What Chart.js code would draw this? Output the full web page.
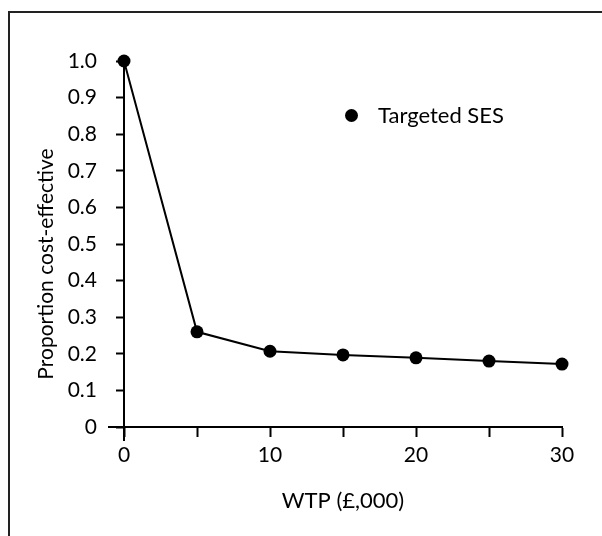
<!DOCTYPE html>
<html>
<head>
<meta charset="utf-8">
<script src="https://cdn.jsdelivr.net/npm/chart.js@4"></script>
<style>
    html, body { margin: 0; padding: 0; background: #fff; overflow: hidden; }
    #wrap { position: relative; width: 602px; height: 536px; }
    #frame { position: absolute; left: 8px; top: 11px; width: 1000px; height: 1000px; border: 2px solid #222; }
    #legend { position: absolute; left: 345px; top: 101px; font: 22px Lato, sans-serif; color: #000; white-space: nowrap; }
    #legend .dot { display: inline-block; width: 13px; height: 13px; border-radius: 50%; background: #000; vertical-align: middle; margin-right: 20px; margin-top: -3px; }
    canvas { position: absolute; left: 0; top: 0; }
</style>
</head>
<body>
<div id="wrap">
    <div id="frame"></div>
    <canvas id="lineChart" width="602" height="536"></canvas>
    <div id="legend"></div>
</div>
<script>
// data
var wtp = [0, 5, 10, 15, 20, 25, 30];
var targetedSES = [1.0, 0.26, 0.207, 0.197, 0.189, 0.18, 0.172];
var xTickLabels = ['0', '', '10', '', '20', '', '30'];
var yTickLabels = ['0', '0.1', '0.2', '0.3', '0.4', '0.5', '0.6', '0.7', '0.8', '0.9', '1.0'];
var seriesLabel = 'Targeted SES';
var yTitle = 'Proportion cost-effective';

var FONT = 'Lato, "Open Sans", sans-serif';

// axis corner extensions + y title (sits a bit below the middle of the axis)
var axisExtras = {
    id: 'axisExtras',
    afterDraw: function (chart) {
        var x = chart.scales.x, y = chart.scales.y;
        var x0 = x.getPixelForValue(0), y0 = y.getPixelForValue(0);
        var c = chart.ctx;
        c.save();
        c.strokeStyle = '#000';
        c.lineWidth = 2;
        c.beginPath();
        c.moveTo(x0 - 16, y0);
        c.lineTo(x0, y0);
        c.moveTo(x0, y0);
        c.lineTo(x0, y0 + 14);
        c.stroke();

        c.translate(46, (y.top + y.bottom) / 2 + 20);
        c.rotate(-Math.PI / 2);
        c.fillStyle = '#000';
        c.font = '21px ' + FONT;
        c.textAlign = 'center';
        c.textBaseline = 'middle';
        c.fillText(yTitle, 0, 0);
        c.restore();
    }
};

var lineData = {
    datasets: [{
        label: seriesLabel,
        data: wtp.map(function (v, i) { return {x: v, y: targetedSES[i]}; }),
        borderColor: '#000',
        borderWidth: 2,
        backgroundColor: '#000',
        pointBackgroundColor: '#000',
        pointBorderColor: '#000',
        pointRadius: 6.5,
        pointBorderWidth: 0,
        tension: 0,
        clip: false
    }]
};

var lineOptions = {
    responsive: false,
    animation: false,
    layout: {padding: {top: 61, right: 40, left: 0, bottom: 0}},
    plugins: {
        legend: {display: false},
        tooltip: {enabled: false}
    },
    scales: {
        x: {
            type: 'linear',
            min: 0,
            max: 30,
            afterFit: function (s) { s.height = 109; },
            afterBuildTicks: function (s) {
                s.ticks = wtp.map(function (v) { return {value: v}; });
            },
            grid: {drawOnChartArea: false, drawTicks: true, tickLength: 10, tickColor: '#000', tickWidth: 2},
            border: {color: '#000', width: 2},
            ticks: {
                padding: 6,
                color: '#000',
                font: {family: FONT, size: 21},
                maxRotation: 0,
                autoSkip: false,
                callback: function (v, i) { return xTickLabels[i]; }
            },
            title: {
                display: true,
                text: 'WTP (£,000)',
                color: '#000',
                font: {family: FONT, size: 22},
                padding: {top: 0, bottom: 22}
            }
        },
        y: {
            min: 0,
            max: 1,
            afterFit: function (s) { s.width = 124; },
            afterBuildTicks: function (s) {
                s.ticks = yTickLabels.map(function (t, i) { return {value: i / 10}; });
            },
            grid: {drawOnChartArea: false, drawTicks: true, tickLength: 8, tickColor: '#000', tickWidth: 2},
            border: {color: '#000', width: 2},
            ticks: {
                padding: 19,
                color: '#000',
                font: {family: FONT, size: 21},
                autoSkip: false,
                callback: function (v, i) { return yTickLabels[i]; }
            },
            title: {display: false}
        }
    }
};

var ctx = document.getElementById('lineChart').getContext('2d');
var chart = new Chart(ctx, {type: 'line', data: lineData, options: lineOptions, plugins: [axisExtras]});

// legend drawn as html, from the dataset
document.getElementById('legend').innerHTML =
    '<span class="dot"></span>' + chart.data.datasets[0].label;
</script>
</body>
</html>
